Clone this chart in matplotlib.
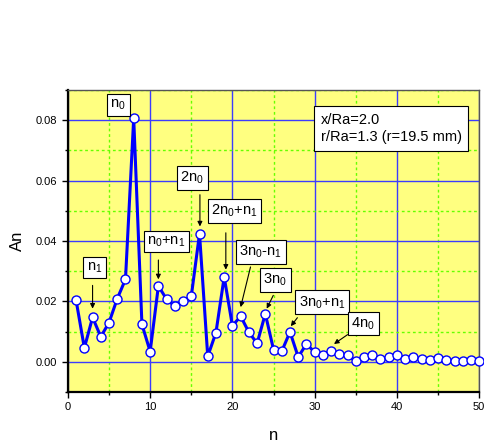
import numpy as np
import matplotlib
matplotlib.use("Agg")
import matplotlib.pyplot as plt
from matplotlib.ticker import MultipleLocator

plt.rcParams['font.family'] = ['Liberation Sans', 'DejaVu Sans']
plt.rcParams['mathtext.default'] = 'regular'

# harmonic number and amplitude
n = np.arange(1, 51)
An = [0.0203, 0.0046, 0.0147, 0.0083, 0.0130, 0.0209, 0.0273, 0.0806, 0.0124, 0.0034,
      0.0251, 0.0207, 0.0184, 0.0201, 0.0217, 0.0424, 0.0018, 0.0097, 0.0281, 0.0119,
      0.0151, 0.0098, 0.0061, 0.0159, 0.0040, 0.0035, 0.0099, 0.0016, 0.0059, 0.0032,
      0.0024, 0.0035, 0.0026, 0.0021, 0.0003, 0.0016, 0.0022, 0.0008, 0.0016, 0.0024,
      0.0010, 0.0016, 0.0008, 0.0007, 0.0013, 0.0005, 0.0002, 0.0002, 0.0007, 0.0004]

peak_labels = ['n$_0$', 'n$_1$', 'n$_0$+n$_1$', '2n$_0$', '2n$_0$+n$_1$',
               '3n$_0$-n$_1$', '3n$_0$', '3n$_0$+n$_1$', '4n$_0$']

fig = plt.figure(figsize=(4.85, 4.45), dpi=100)
ax = fig.add_axes([0.140, 0.119, 0.848, 0.679])
ax.set_facecolor('#ffff80')

ax.plot(n, An, '-o', color='#0000ff', lw=2.2, ms=6.5, mfc='white', mec='#0000ff', mew=1.0,
        zorder=5, clip_on=False)

ax.set_xlim(0, 50)
ax.set_ylim(-0.01, 0.09)
ax.xaxis.set_major_locator(MultipleLocator(10))
ax.xaxis.set_minor_locator(MultipleLocator(5))
ax.yaxis.set_major_locator(MultipleLocator(0.02))
ax.yaxis.set_minor_locator(MultipleLocator(0.01))
ax.yaxis.set_major_formatter(matplotlib.ticker.FormatStrFormatter('%.2f'))

ax.grid(which='major', color='#3c3cff', lw=1.0, ls='-', zorder=1)
ax.grid(which='minor', color='#66ff00', lw=1.0, ls=(0, (2, 2)), zorder=1)
ax.set_axisbelow(True)

ax.tick_params(which='major', direction='out', length=4, width=1, labelsize=8, color='k')
ax.tick_params(which='minor', direction='out', length=2.5, width=1, color='k')
for s in ['left', 'bottom']:
    ax.spines[s].set_linewidth(1.6)
    ax.spines[s].set_color('k')
for s in ['top', 'right']:
    ax.spines[s].set_linewidth(1.0)
    ax.spines[s].set_color('#555555')

ax.set_xlabel('n', fontsize=12, labelpad=11)
ax.set_ylabel('An', fontsize=12, labelpad=8)

box = dict(boxstyle='square,pad=0.25', fc='white', ec='k', lw=0.8)
# label centre positions (data coords) and arrow (start, end) or None
label_pos = [(6.1, 0.0850), (3.2, 0.0312), (12.0, 0.0398), (15.1, 0.0608), (20.25, 0.0500),
             (23.45, 0.0364), (25.2, 0.0270), (30.9, 0.0197), (35.9, 0.0127)]
arrows = [None,
          ((3.0, 0.0253), (3.0, 0.0176)),
          ((11.0, 0.0337), (11.0, 0.0273)),
          ((16.05, 0.0553), (16.05, 0.0448)),
          ((19.2, 0.0427), (19.2, 0.0305)),
          ((22.2, 0.0314), (21.0, 0.0181)),
          ((24.97, 0.0220), (24.17, 0.0176)),
          ((27.9, 0.0146), (27.1, 0.0118)),
          ((34.0, 0.0090), (32.35, 0.0059))]
for lab, pos, arr in zip(peak_labels, label_pos, arrows):
    ax.text(pos[0], pos[1], lab, fontsize=10.5, ha='center', va='center', bbox=box, zorder=7)
    if arr is not None:
        ax.annotate('', xy=arr[1], xytext=arr[0],
                    arrowprops=dict(arrowstyle='-|>', color='k', lw=0.8, mutation_scale=7,
                                    shrinkA=0, shrinkB=0), zorder=7)

ax.text(0.615, 0.925, 'x/Ra=2.0\nr/Ra=1.3 (r=19.5 mm)', transform=ax.transAxes, fontsize=10.5,
        ha='left', va='top', linespacing=1.35,
        bbox=dict(boxstyle='square,pad=0.45', fc='white', ec='k', lw=0.8), zorder=7)

fig.savefig('out.png', dpi=100)
